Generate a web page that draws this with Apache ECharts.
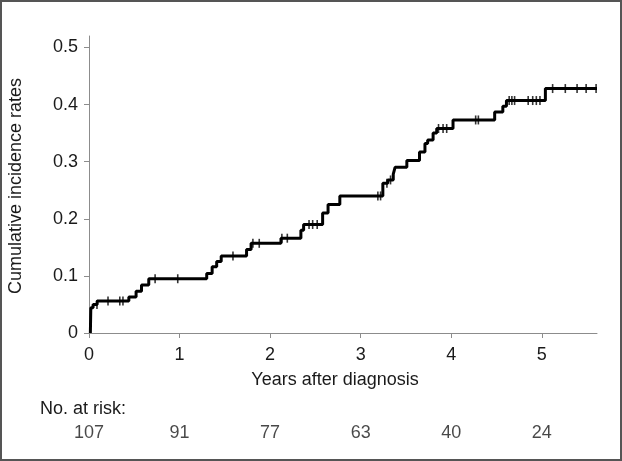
<!DOCTYPE html>
<html>
<head>
<meta charset="utf-8">
<script src="https://cdn.jsdelivr.net/npm/echarts@6/dist/echarts.min.js"></script>
<style>
html,body{margin:0;padding:0;background:#fff;}
#chart{width:622px;height:461px;}
</style>
</head>
<body>
<div id="chart"></div>
<script>
// Step curve: event times (years) and cumulative incidence after each event
var stepTimes  = [0.015, 0.02, 0.045, 0.09, 0.44, 0.52, 0.58, 0.66, 1.30, 1.36, 1.41, 1.46, 1.74, 1.79, 2.12, 2.34, 2.37, 2.58, 2.64, 2.77, 3.245, 3.30, 3.36, 3.38, 3.51, 3.65, 3.71, 3.74, 3.80, 3.84, 4.02, 4.48, 4.57, 4.61, 5.04, 5.61];
var stepLevels = [0, 0.044, 0.050, 0.056, 0.063, 0.073, 0.084, 0.095, 0.104, 0.116, 0.125, 0.135, 0.146, 0.157, 0.166, 0.180, 0.190, 0.210, 0.225, 0.240, 0.262, 0.268, 0.278, 0.290, 0.302, 0.317, 0.332, 0.338, 0.350, 0.358, 0.373, 0.387, 0.397, 0.407, 0.428, 0.428];
// Censoring times (years)
var censorTimes = [0.088, 0.21, 0.34, 0.375, 0.73, 0.98, 1.59, 1.81, 1.88, 2.13, 2.19, 2.43, 2.47, 2.52, 3.19, 3.22, 3.29, 3.33, 3.86, 3.91, 3.95, 4.27, 4.30, 4.64, 4.67, 4.70, 4.85, 4.90, 4.94, 4.98, 5.12, 5.26, 5.39, 5.49, 5.60];
// Axis ticks
var xTicks = [0, 1, 2, 3, 4, 5];
var yTicks = [0, 0.1, 0.2, 0.3, 0.4, 0.5];
// Number at risk
var riskYears = [0, 1, 2, 3, 4, 5];
var riskCounts = [107, 91, 77, 63, 40, 24];

function levelAt(t) {
  var v = stepLevels[0];
  for (var i = 0; i < stepTimes.length; i++) { if (stepTimes[i] <= t) v = stepLevels[i]; }
  return v;
}
var curveData = stepTimes.map(function (t, i) { return [t, stepLevels[i]]; });
var censorData = censorTimes.map(function (t) { return [t, levelAt(t)]; });
var riskData = riskYears.map(function (t, i) { return [t, 0.5, riskCounts[i]]; });

var FONT = 'Liberation Sans, Arial, sans-serif';
var FS = 18;
var chart = echarts.init(document.getElementById('chart'));
chart.setOption({
  animation: false,
  backgroundColor: '#fff',
  grid: [
    {left: 89, right: 25, top: 36, height: 297},
    {left: 89, right: 25, top: 423, height: 20}
  ],
  xAxis: [{
    type: 'value', gridIndex: 0, min: 0, max: 5.61,
    axisLine: {show: true, lineStyle: {color: '#8c8c8c', width: 1}},
    axisTick: {show: true, length: 5, lineStyle: {color: '#8c8c8c'}, customValues: xTicks},
    axisLabel: {color: '#1a1a1a', fontSize: FS, fontFamily: FONT, margin: 13, customValues: xTicks},
    splitLine: {show: false}
  }, {
    type: 'value', gridIndex: 1, min: 0, max: 5.61, show: false
  }],
  yAxis: [{
    type: 'value', gridIndex: 0, min: 0, max: 0.52,
    axisLine: {show: true, lineStyle: {color: '#8c8c8c', width: 1}},
    axisTick: {show: true, length: 5, lineStyle: {color: '#8c8c8c'}, customValues: yTicks},
    axisLabel: {color: '#1a1a1a', fontSize: FS, fontFamily: FONT, margin: 11, customValues: yTicks,
      formatter: function (v) { return v === 0 ? '0' : v.toFixed(1); }},
    splitLine: {show: false}
  }, {
    type: 'value', gridIndex: 1, min: 0, max: 1, show: false
  }],
  series: [{
    type: 'line', xAxisIndex: 0, yAxisIndex: 0, step: 'end',
    data: curveData, symbol: 'none',
    lineStyle: {color: '#000', width: 3}, z: 3
  }, {
    type: 'scatter', xAxisIndex: 0, yAxisIndex: 0,
    data: censorData, symbol: 'rect', symbolSize: [1.6, 9],
    itemStyle: {color: '#000'}, z: 4
  }, {
    type: 'scatter', xAxisIndex: 1, yAxisIndex: 1,
    data: riskData, symbolSize: 0,
    label: {show: true, position: 'inside', color: '#1a1a1a', fontSize: FS, fontFamily: FONT,
      formatter: function (p) { return String(p.value[2]); }}
  }],
  graphic: [
    {type: 'rect', shape: {x: 1, y: 1, width: 620, height: 459},
     style: {fill: 'none', stroke: '#555', lineWidth: 2}, z: 10},
    {type: 'text', x: 16, y: 186, rotation: Math.PI / 2,
     style: {text: 'Cumulative incidence rates', fill: '#1a1a1a', font: FS + 'px ' + FONT,
       textAlign: 'center', textVerticalAlign: 'middle'}},
    {type: 'text', x: 335, y: 380,
     style: {text: 'Years after diagnosis', fill: '#1a1a1a', font: FS + 'px ' + FONT,
       textAlign: 'center', textVerticalAlign: 'middle'}},
    {type: 'text', x: 40, y: 409,
     style: {text: 'No. at risk:', fill: '#1a1a1a', font: FS + 'px ' + FONT,
       textAlign: 'left', textVerticalAlign: 'middle'}}
  ]
});
</script>
</body>
</html>
